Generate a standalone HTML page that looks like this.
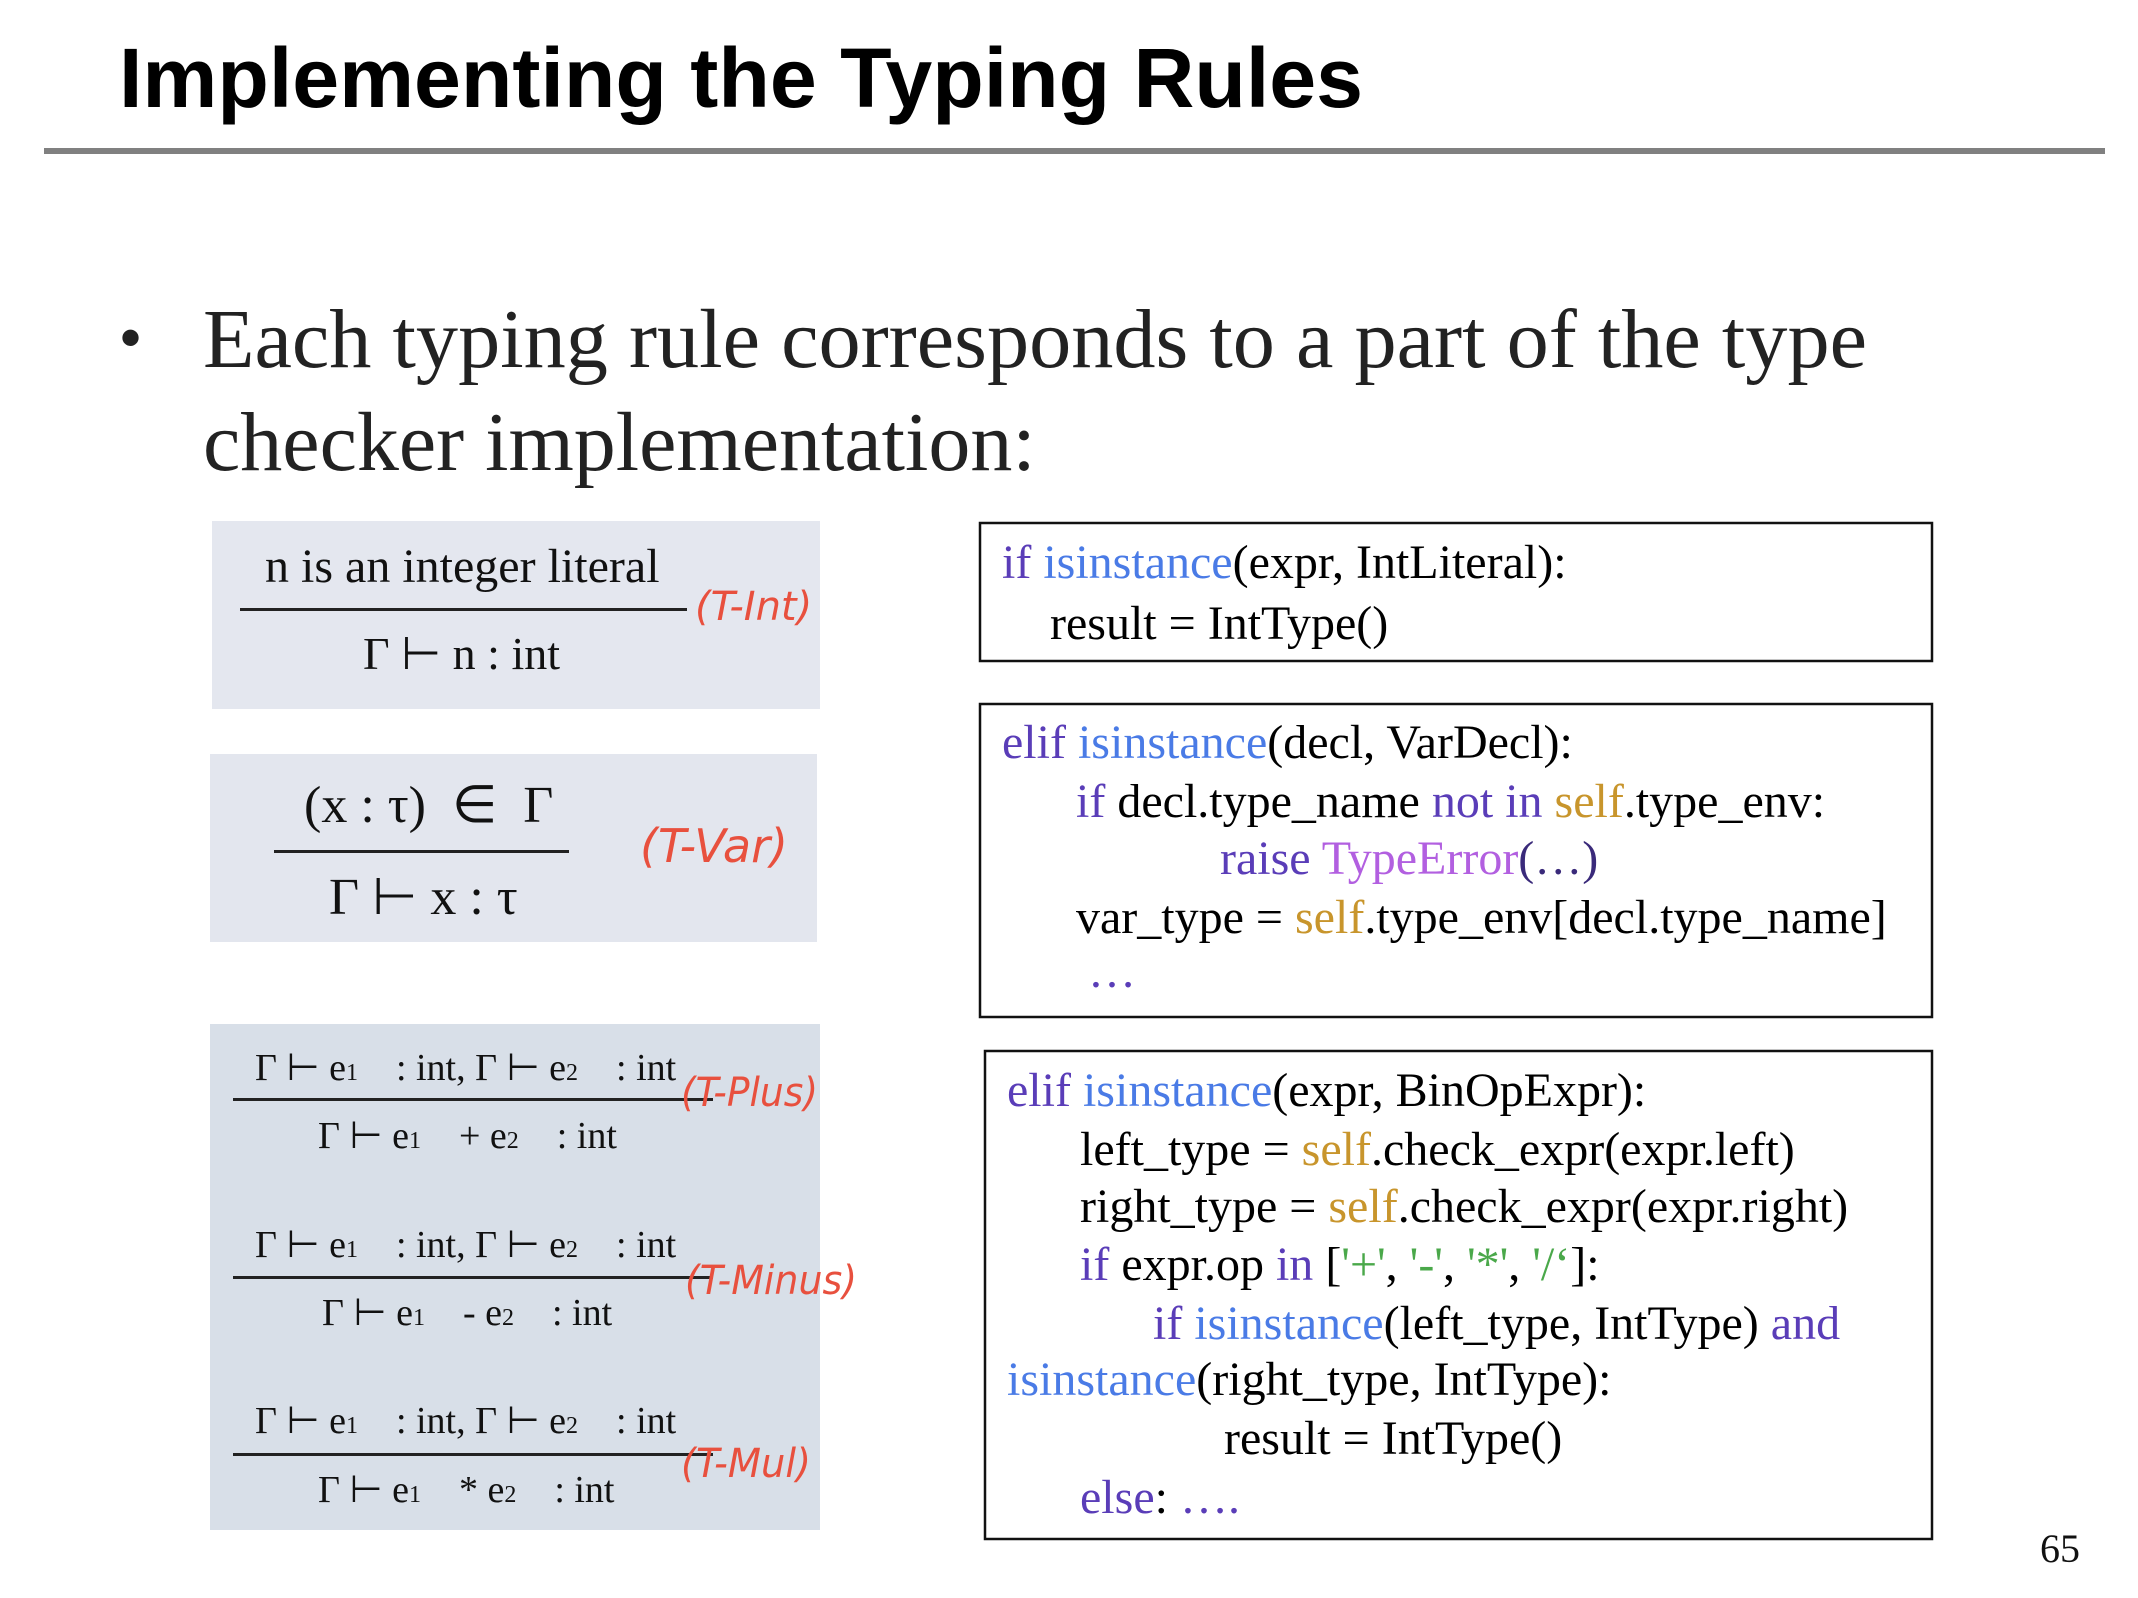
<!DOCTYPE html>
<html><head><meta charset="utf-8"><style>
html,body{margin:0;padding:0;background:#fff;}
svg{display:block;}
text{white-space:pre;}
.t{font-family:"Liberation Serif",serif;}
.s{font-family:"Liberation Sans",sans-serif;}
.k{fill:#5a3db8}.b{fill:#4a7be6}.g{fill:#c8952c}.v{fill:#b25fe0}.gr{fill:#4aa84a}
.lab{font-family:"DejaVu Sans","Liberation Sans",sans-serif;font-style:italic;fill:#e8503e;}
</style></head><body>
<svg width="2138" height="1598" viewBox="0 0 2138 1598" xmlns="http://www.w3.org/2000/svg" xml:space="preserve">
<text class="s" x="119" y="107" font-size="84" font-weight="bold" fill="#000" textLength="1244" lengthAdjust="spacingAndGlyphs">Implementing the Typing Rules</text>
<rect x="44" y="148" width="2061" height="6" fill="#808080"/>
<text class="s" x="120" y="358" font-size="60" fill="#222">•</text>
<text class="t" x="203" y="367" font-size="84" fill="#222" textLength="1664" lengthAdjust="spacingAndGlyphs">Each typing rule corresponds to a part of the type</text>
<text class="t" x="203" y="470" font-size="84" fill="#222">checker implementation:</text>

<rect x="212" y="521" width="608" height="188" fill="#e4e7ef"/>
<rect x="210" y="754" width="607" height="188" fill="#e3e6ee"/>
<rect x="210" y="1024" width="610" height="506" fill="#d8dfe8"/>

<text class="t" x="265" y="582" font-size="48" fill="#111">n is an integer literal</text>
<rect x="240" y="608" width="447" height="3" fill="#222"/>
<text class="lab" x="695" y="620" font-size="40">(T-Int)</text>
<text class="t" x="363" y="669" font-size="46" fill="#111">Γ ⊢ n : int</text>

<text class="t" x="304" y="822" font-size="52" fill="#111">(x : τ)  ∈  Γ</text>
<rect x="274" y="850" width="295" height="3" fill="#222"/>
<text class="lab" x="640" y="862" font-size="46" textLength="148" lengthAdjust="spacingAndGlyphs">(T-Var)</text>
<text class="t" x="329" y="914" font-size="52" fill="#111">Γ ⊢ x : τ</text>

<g class="t" font-size="38" fill="#111">
<text x="255" y="1080">Γ ⊢ e<tspan font-size="24">1</tspan>    : int, Γ ⊢ e<tspan font-size="24">2</tspan>    : int</text>
<text x="318" y="1148">Γ ⊢ e<tspan font-size="24">1</tspan>    + e<tspan font-size="24">2</tspan>    : int</text>
<text x="255" y="1257">Γ ⊢ e<tspan font-size="24">1</tspan>    : int, Γ ⊢ e<tspan font-size="24">2</tspan>    : int</text>
<text x="322" y="1325">Γ ⊢ e<tspan font-size="24">1</tspan>    - e<tspan font-size="24">2</tspan>    : int</text>
<text x="255" y="1433">Γ ⊢ e<tspan font-size="24">1</tspan>    : int, Γ ⊢ e<tspan font-size="24">2</tspan>    : int</text>
<text x="318" y="1502">Γ ⊢ e<tspan font-size="24">1</tspan>    * e<tspan font-size="24">2</tspan>    : int</text>
</g>
<rect x="233" y="1098" width="480" height="3" fill="#222"/>
<rect x="233" y="1276" width="480" height="3" fill="#222"/>
<rect x="233" y="1453" width="480" height="3" fill="#222"/>
<text class="lab" x="681" y="1106" font-size="40" textLength="137" lengthAdjust="spacingAndGlyphs">(T-Plus)</text>
<text class="lab" x="685" y="1294" font-size="40" textLength="172" lengthAdjust="spacingAndGlyphs">(T-Minus)</text>
<text class="lab" x="681" y="1477" font-size="40" textLength="130" lengthAdjust="spacingAndGlyphs">(T-Mul)</text>

<rect x="980" y="523" width="952" height="138" fill="none" stroke="#111" stroke-width="2.5"/>
<rect x="980" y="704" width="952" height="313" fill="none" stroke="#111" stroke-width="2.5"/>
<rect x="985" y="1051" width="947" height="488" fill="none" stroke="#111" stroke-width="2.5"/>

<g class="t" font-size="48" fill="#000">
<text x="1002" y="578"><tspan class="k">if</tspan> <tspan class="b">isinstance</tspan>(expr, IntLiteral):</text>
<text x="1050" y="639">result = IntType()</text>

<text x="1002" y="758"><tspan class="k">elif</tspan> <tspan class="b">isinstance</tspan>(decl, VarDecl):</text>
<text x="1076" y="817"><tspan class="k">if</tspan> decl.type_name <tspan class="k">not in</tspan> <tspan class="g">self</tspan>.type_env:</text>
<text x="1220" y="874"><tspan class="k">raise</tspan> <tspan class="v">TypeError</tspan><tspan fill="#3a2a7a">(…)</tspan></text>
<text x="1076" y="933">var_type = <tspan class="g">self</tspan>.type_env[decl.type_name]</text>
<text x="1088" y="987" class="k">…</text>

<text x="1007" y="1106"><tspan class="k">elif</tspan> <tspan class="b">isinstance</tspan>(expr, BinOpExpr):</text>
<text x="1080" y="1165">left_type = <tspan class="g">self</tspan>.check_expr(expr.left)</text>
<text x="1080" y="1222">right_type = <tspan class="g">self</tspan>.check_expr(expr.right)</text>
<text x="1080" y="1280"><tspan class="k">if</tspan> expr.op <tspan class="k">in</tspan> [<tspan class="gr">'+'</tspan>, <tspan class="gr">'-'</tspan>, <tspan class="gr">'*'</tspan>, <tspan class="gr">'/‘</tspan>]:</text>
<text x="1153" y="1339"><tspan class="k">if</tspan> <tspan class="b">isinstance</tspan>(left_type, IntType) <tspan class="k">and</tspan></text>
<text x="1007" y="1395"><tspan class="b">isinstance</tspan>(right_type, IntType):</text>
<text x="1224" y="1454">result = IntType()</text>
<text x="1080" y="1513"><tspan class="k">else</tspan>: <tspan class="k">….</tspan></text>
</g>

<text class="t" x="2040" y="1562" font-size="40" fill="#111">65</text>
</svg>
</body></html>
